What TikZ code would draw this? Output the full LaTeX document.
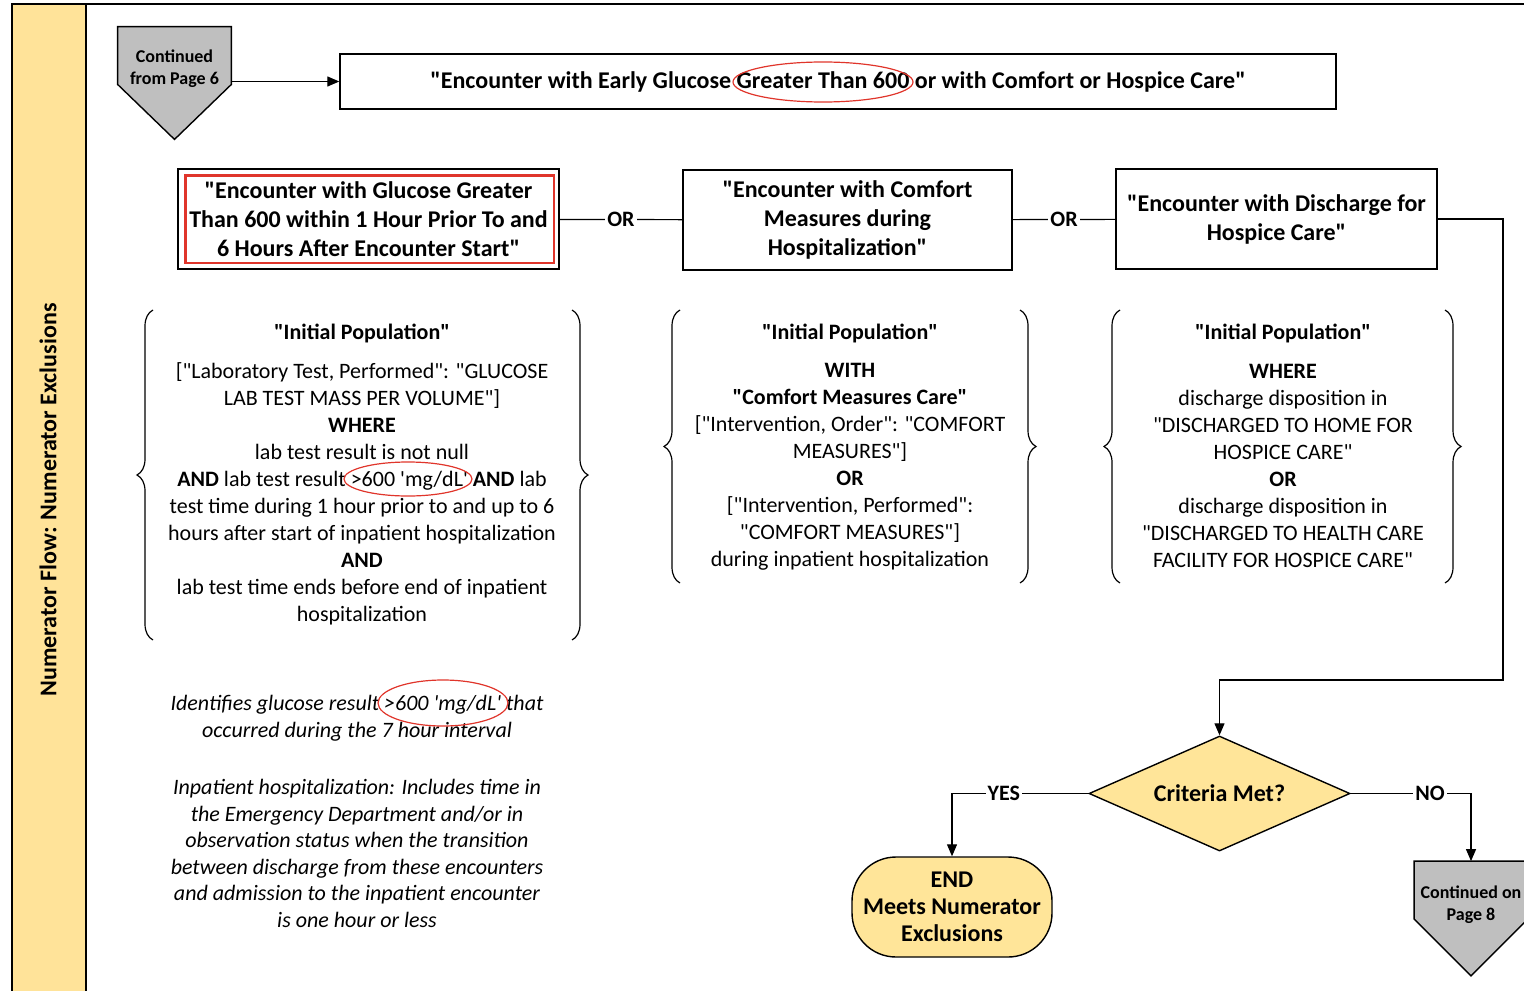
\documentclass[tikz,border=0pt]{standalone}
\usepackage{fontspec}
\setmainfont{Carlito}[Ligatures=TeXOff]
\usetikzlibrary{arrows.meta,shapes.geometric,decorations.pathreplacing}

\definecolor{laneyellow}{HTML}{FFE399}
\definecolor{decyellow}{HTML}{FFE599}
\definecolor{pagegray}{HTML}{BFBFBF}
\definecolor{markred}{HTML}{E0352B}

\tikzset{
  box/.style={draw, line width=0.7pt, align=center, inner sep=0pt,
    font=\bfseries\fontsize{12}{14.5}\selectfont},
  crit/.style={align=center, font=\fontsize{11}{13.5}\selectfont},
  crithead/.style={font=\bfseries\fontsize{11}{13.5}\selectfont},
  note/.style={align=center, font=\itshape\fontsize{11}{13.3}\selectfont},
  conn/.style={line width=0.6pt},
  arr/.style={conn, -{Triangle[length=6pt,width=5pt]}},
  lbl/.style={fill=white, inner sep=1pt, font=\bfseries\fontsize{11}{13}\selectfont},
  curly/.style={decorate, decoration={brace, amplitude=8pt}, line width=0.6pt},
  redring/.style={draw=markred, line width=0.6pt, ellipse, inner sep=0pt},
  pagebox/.style={minimum width=56.5pt, minimum height=28.5pt, inner sep=0pt},
  pagetxt/.style={align=center, font=\bfseries\fontsize{9}{11}\selectfont},
}

\begin{document}
\begin{tikzpicture}[x=0.5pt,y=-0.5pt]
\useasboundingbox (0,0) rectangle (1524,990);

% swim lane
\draw[fill=laneyellow, line width=0.7pt] (12,4) rectangle (86,1000);
\draw[line width=0.7pt] (86,4) -- (1530,4);
\node[rotate=90, font=\bfseries\fontsize{12}{14}\selectfont] (lane) at (48,500)
  {Numerator Flow: Numerator Exclusions};

% off-page connector in
\node[pagebox] (from6) at (174.5,55.5) {};
\draw[fill=pagegray, line width=0.7pt] (from6.north west) -- (from6.north east)
  -- (from6.south east) -- ([yshift=-27.5pt]from6.south) -- (from6.south west) -- cycle;
\node[pagetxt] (from6txt) at (174.5,69) {Continued\\from Page 6};

% population header
\node[box, minimum width=498pt, minimum height=27.5pt] (early) at (838,81.5)
  {"Encounter with Early Glucose Greater Than 600 or with Comfort or Hospice Care"};
\node[redring, minimum width=90pt, minimum height=20pt] (ring1) at (823,82) {};
\draw[arr] (from6.east |- early.west) -- (early.west);

% the three criteria
\node[box, minimum width=190.5pt, minimum height=50pt] (glucose) at (368.5,219)
  {"Encounter with Glucose Greater\\Than 600 within 1 Hour Prior To and\\6 Hours After Encounter Start"};
\draw[markred, line width=1.2pt] ([shift={(8,7)}]glucose.north west)
  rectangle ([shift={(-6,-7)}]glucose.south east);
\node[box, minimum width=164.5pt, minimum height=50pt] (comfort) at (847.5,220)
  {"Encounter with Comfort\\Measures during\\Hospitalization"};
\node[box, minimum width=160.5pt, minimum height=50pt] (hospice) at (1276.5,219)
  {"Encounter with Discharge for\\Hospice Care"};

\draw[conn] (glucose) -- node[lbl] {OR} (comfort);
\draw[conn] (comfort) -- node[lbl] {OR} (hospice);

% definitions
\node[crithead] (ip1) at (362,333) {"Initial Population"};
\node[crit] (lab) at (362,494)
  {{[}"Laboratory Test, Performed": "GLUCOSE\\
   LAB TEST MASS PER VOLUME"]\\
   \textbf{WHERE}\\
   lab test result is not null\\
   \textbf{AND} lab test result >600 'mg/dL' \textbf{AND} lab\\
   test time during 1 hour prior to and up to 6\\
   hours after start of inpatient hospitalization\\
   \textbf{AND}\\
   lab test time ends before end of inpatient\\
   hospitalization};
\node[redring, minimum width=64pt, minimum height=17pt] (ring2) at (408,479) {};
\draw[curly] (153,640) -- (153,310);
\draw[curly] (572,310) -- (572,640);

\node[crithead] (ip2) at (850,333) {"Initial Population"};
\node[crit] (cmc) at (850,466.5)
  {\textbf{WITH}\\
   \textbf{"Comfort Measures Care"}\\
   {[}"Intervention, Order": "COMFORT\\
   MEASURES"]\\
   \textbf{OR}\\
   {[}"Intervention, Performed":\\
   "COMFORT MEASURES"]\\
   during inpatient hospitalization};
\draw[curly] (680,583) -- (680,310);
\draw[curly] (1020,310) -- (1020,583);

\node[crithead] (ip3) at (1283,333) {"Initial Population"};
\node[crit] (disch) at (1283,466)
  {\textbf{WHERE}\\
   discharge disposition in\\
   "DISCHARGED TO HOME FOR\\
   HOSPICE CARE"\\
   \textbf{OR}\\
   discharge disposition in\\
   "DISCHARGED TO HEALTH CARE\\
   FACILITY FOR HOSPICE CARE"};
\draw[curly] (1120,583) -- (1120,310);
\draw[curly] (1445,310) -- (1445,583);

% notes
\node[note] (note1) at (357,718)
  {Identifies glucose result >600 'mg/dL' that\\
   occurred during the 7 hour interval};
\node[redring, minimum width=65pt, minimum height=23pt] (ring3) at (443,703) {};
\node[note] (note2) at (357,853.5)
  {Inpatient hospitalization: Includes time in\\
   the Emergency Department and/or in\\
   observation status when the transition\\
   between discharge from these encounters\\
   and admission to the inpatient encounter\\
   is one hour or less};

% decision
\node[diamond, draw, line width=0.7pt, fill=decyellow, aspect=2.27, inner sep=0pt,
  minimum width=130.5pt, minimum height=57.5pt,
  font=\bfseries\fontsize{12}{14}\selectfont] (crit) at (1219.5,793.5) {Criteria Met?};
\coordinate (bend) at (1503,680);
\draw[arr] (hospice.east) -| (bend) -| (crit.north);

\node[draw, line width=0.7pt, fill=decyellow, rounded corners=22pt, align=center,
  minimum width=100pt, minimum height=50pt,
  font=\bfseries\fontsize{12}{13.5}\selectfont] (endnode) at (952,907)
  {END\\Meets Numerator\\Exclusions};
\draw[arr] (crit.west) -| node[lbl, pos=0.31] {YES} (endnode.north);

% off-page connector out
\node[pagebox] (cont8) at (1471,890) {};
\draw[fill=pagegray, line width=0.7pt] (cont8.north west) -- (cont8.north east)
  -- (cont8.south east) -- ([yshift=-28.5pt]cont8.south) -- (cont8.south west) -- cycle;
\node[pagetxt] (cont8txt) at (1471,905) {Continued on\\Page 8};
\draw[arr] (crit.east) -| node[lbl, pos=0.33] {NO} (cont8.north);

\end{tikzpicture}
\end{document}
